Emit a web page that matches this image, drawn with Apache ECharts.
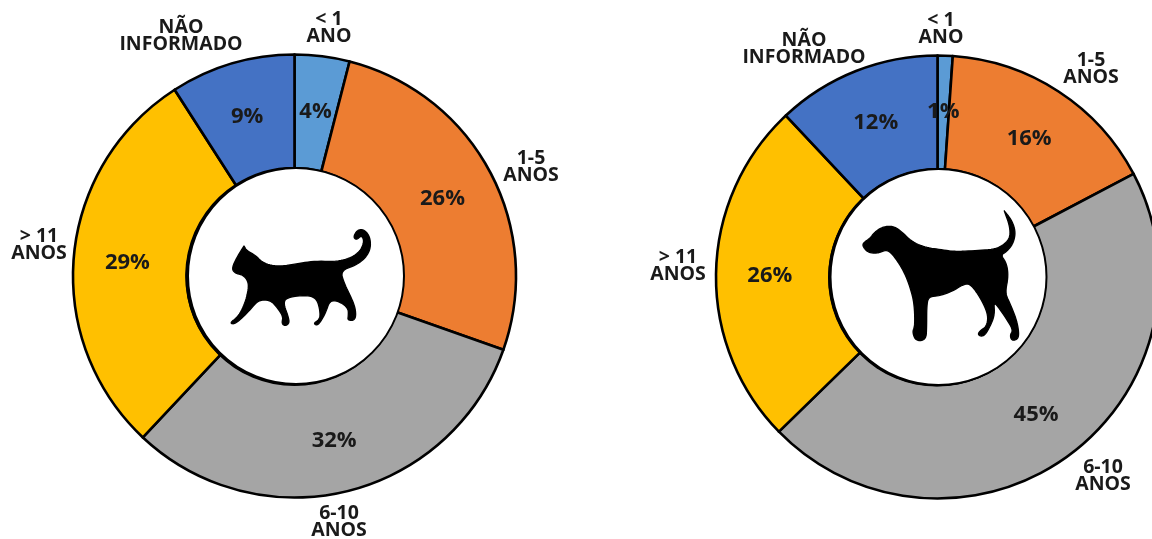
<!DOCTYPE html>
<html><head><meta charset="utf-8">
<style>html,body{margin:0;padding:0;background:#fff}#c{width:1152px;height:539px}</style>
<script src="https://cdn.jsdelivr.net/npm/echarts@6/dist/echarts.min.js"></script>
</head><body><div id="c"></div>
<script>
const categories = ['< 1\nANO', '1-5\nANOS', '6-10\nANOS', '> 11\nANOS', 'NÃO\nINFORMADO'];
const catLabels = [4, 26, 32, 29, 9];
const dogLabels = [1, 16, 45, 26, 12];
const catValues = [4, 26.4, 31.6, 28.9, 9.1];
const dogValues = [1.1, 16.2, 45.4, 25.3, 12];
const colors = ['#5B9BD5', '#ED7D31', '#A5A5A5', '#FFC000', '#4472C4'];

const catLabelPos = [[329,28],[531,167],[339,522],[39,245],[181,36]];
const dogLabelPos = [[941,29],[1091,69],[1103,476],[678,266],[804,49]];

const catShape = [[155,325],[172,290],[192,258],[192,258],[200,272],[225,285],[250,310],[290,320],[350,312],[400,303],[470,305],[510,295],[540,275],[553,245],[545,225],[530,240],[520,232],[530,212],[548,207],[568,225],[573,260],[560,290],[530,315],[480,332],[495,375],[510,405],[525,440],[528,470],[520,482],[503,480],[505,468],[505,445],[480,425],[450,420],[438,455],[425,480],[412,497],[400,490],[420,478],[420,450],[410,415],[380,405],[320,412],[310,430],[325,470],[328,490],[315,498],[305,490],[310,470],[290,440],[270,420],[235,420],[210,450],[180,480],[160,493],[150,488],[175,470],[195,430],[205,390],[205,365],[190,345],[165,340]];
const dogShape = [[113,250],[135,235],[150,215],[175,200],[205,198],[230,215],[260,245],[300,262],[340,268],[390,275],[450,272],[510,268],[535,255],[555,235],[555,200],[538,153],[538,153],[560,180],[572,215],[565,250],[545,275],[527,285],[545,310],[550,350],[540,400],[555,430],[575,480],[582,520],[578,538],[560,542],[555,525],[565,510],[540,470],[505,420],[510,465],[490,510],[475,530],[458,525],[465,512],[485,500],[490,465],[470,420],[440,375],[420,370],[380,395],[340,408],[310,410],[305,440],[305,500],[303,540],[272,543],[262,515],[270,500],[268,430],[255,380],[235,330],[205,285],[185,268],[160,280],[130,278],[115,262]];

const FONT = '"Open Sans", "Noto Sans", sans-serif';
function pie(values, labels, center) {
  return {
    type: 'pie', center: center, radius: [108, 221.5], startAngle: 90, clockwise: true, animation: false, silent: true,
    data: values.map((v, i) => ({ value: v, name: categories[i], itemStyle: { color: colors[i] } })),
    itemStyle: { borderColor: '#000', borderWidth: 2.6 },
    label: { show: true, position: 'inside', offset: [0, 2], formatter: p => labels[p.dataIndex] + '%', fontFamily: FONT, fontSize: 22, fontWeight: 700, color: '#1a1a1a' },
    labelLine: { show: false }
  };
}
function outer(pos) {
  return pos.map((p, i) => ({ type: 'text', x: p[0], y: p[1], silent: true, z: 10,
    style: { text: categories[i], fontFamily: FONT, fontSize: 19.5, fontWeight: 700, lineHeight: 17.5, fill: '#1a1a1a', align: 'center', verticalAlign: 'middle' } }));
}
function rounded(pts) {
  const n = pts.length, out = [], mid = (a, b) => [(a[0] + b[0]) / 2, (a[1] + b[1]) / 2];
  for (let i = 0; i < n; i++) {
    const a = mid(pts[(i + n - 1) % n], pts[i]), c = pts[i], b = mid(pts[i], pts[(i + 1) % n]);
    for (let k = 0; k < 6; k++) {
      const t = k / 6, u = 1 - t;
      out.push([u * u * a[0] + 2 * u * t * c[0] + t * t * b[0], u * u * a[1] + 2 * u * t * c[1] + t * t * b[1]]);
    }
  }
  return out;
}
function sil(points, ox, oy) {
  return { type: 'polygon', x: ox, y: oy, scaleX: 1/3, scaleY: 1/3, silent: true, z: 12,
    shape: { points: rounded(points) }, style: { fill: '#000', stroke: '#000', lineWidth: 4, lineJoin: 'round' } };
}
function ring(cx, cy) {
  return { type: 'circle', silent: true, z: 11, shape: { cx: cx, cy: cy, r: 108 }, style: { fill: '#fff', stroke: '#000', lineWidth: 2 } };
}
const chart = echarts.init(document.getElementById('c'), null, { renderer: 'canvas' });
chart.setOption({
  backgroundColor: '#fff', animation: false,
  series: [pie(catValues, catLabels, [294.5, 276]), pie(dogValues, dogLabels, [937.5, 277])],
  graphic: { elements: [].concat(
    [{ type: 'circle', silent: true, z: 10, shape: { cx: 294.5, cy: 277, r: 109 }, style: { fill: '#000' } },
     { type: 'circle', silent: true, z: 10, shape: { cx: 937, cy: 277.5, r: 109 }, style: { fill: '#000' } }],
    [ring(296, 276), ring(938.5, 277)],
    [sil(catShape, 180, 160), sil(dogShape, 825, 160)],
    outer(catLabelPos), outer(dogLabelPos)) }
});
</script></body></html>
